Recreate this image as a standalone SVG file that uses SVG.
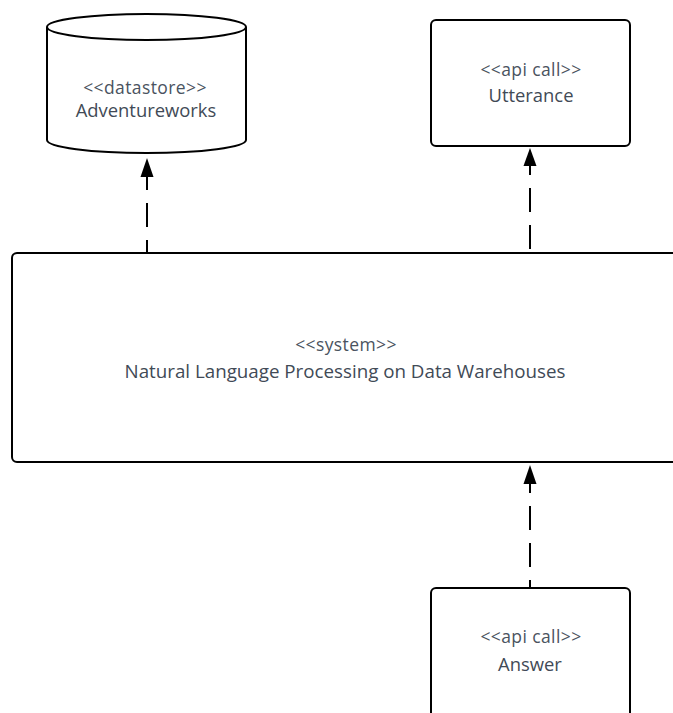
<svg xmlns="http://www.w3.org/2000/svg" width="673" height="713" viewBox="0 0 673 713">
  <style>
    .shape { fill: #ffffff; stroke: #000000; stroke-width: 2; }
    .st { font-family: "Open Sans", "Noto Sans", sans-serif; font-size: 17.5px; letter-spacing: 0.4px; fill: #4a5360; text-anchor: middle; }
    .nm { font-family: "Open Sans", "Noto Sans", sans-serif; font-size: 18.4px; fill: #414a56; text-anchor: middle; }
    .big { font-size: 18.75px; }
    .dep { fill: none; stroke: #000000; stroke-width: 2; stroke-dasharray: 24 13; }
  </style>
  <rect width="673" height="713" fill="#ffffff"/>

  <g id="adventureworks">
    <path class="shape" d="M47,27 L47,140 A99.5,13 0 0 0 246,140 L246,27 A99.5,13 0 0 0 47,27 A99.5,13 0 0 0 246,27"/>
    <text class="st" x="145" y="94">&lt;&lt;datastore&gt;&gt;</text>
    <text class="nm" x="146" y="117">Adventureworks</text>
  </g>

  <g id="utterance">
    <rect class="shape" x="431" y="20" width="199" height="126" rx="5"/>
    <text class="st" x="531" y="76">&lt;&lt;api call&gt;&gt;</text>
    <text class="nm" x="531" y="102">Utterance</text>
  </g>

  <g id="system">
    <rect class="shape" x="12" y="253" width="680" height="209" rx="5"/>
    <text class="st" x="346" y="351">&lt;&lt;system&gt;&gt;</text>
    <text class="nm big" x="345" y="378">Natural Language Processing on Data Warehouses</text>
  </g>

  <g id="answer">
    <rect class="shape" x="431" y="588" width="199" height="140" rx="5"/>
    <text class="st" x="531" y="643">&lt;&lt;api call&gt;&gt;</text>
    <text class="nm" x="530" y="671">Answer</text>
  </g>

  <g id="connectors">
    <path d="M147,177 L147,253" class="dep" stroke-dashoffset="11"/>
    <path d="M140.5,177 L147,158 L153.5,177 Z" fill="#000000"/>
    <path d="M530,165 L530,253" class="dep" stroke-dashoffset="14"/>
    <path d="M523.5,166 L530,148 L536.5,166 Z" fill="#000000"/>
    <path d="M530,483 L530,588" class="dep" stroke-dashoffset="14"/>
    <path d="M523.5,484 L530,465 L536.5,484 Z" fill="#000000"/>
  </g>
</svg>
